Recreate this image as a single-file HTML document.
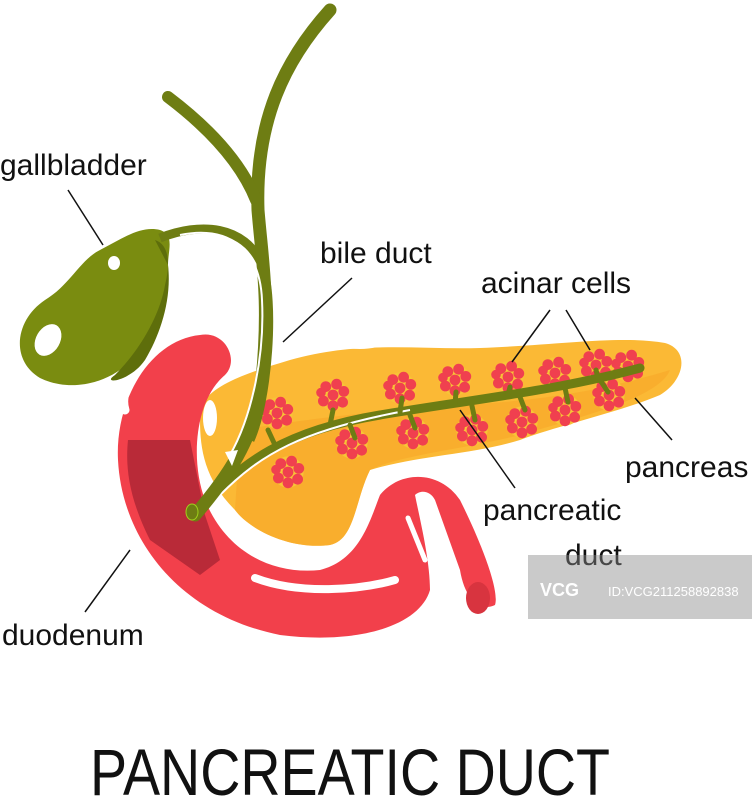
<!DOCTYPE html>
<html><head><meta charset="utf-8"><style>
html,body{margin:0;padding:0;background:#fff;}
svg{display:block;}
text{font-family:"Liberation Sans",sans-serif;fill:#111;}
</style></head><body>
<svg width="752" height="800" viewBox="0 0 752 800" xmlns="http://www.w3.org/2000/svg">
<defs>
<g id="ac" transform="scale(1.2)">
<circle r="13" fill="#f7c437"/>
<circle cx="0" cy="0" r="4.5" fill="#f0404f"/>
<circle cx="-6" cy="-7" r="4.5" fill="#f0404f"/>
<circle cx="3" cy="-9" r="4.5" fill="#f0404f"/>
<circle cx="9" cy="-3" r="4.5" fill="#f0404f"/>
<circle cx="8" cy="6" r="4.5" fill="#f0404f"/>
<circle cx="0" cy="9" r="4.5" fill="#f0404f"/>
<circle cx="-8" cy="5" r="4.5" fill="#f0404f"/>
<circle cx="-10" cy="-2" r="4" fill="#f0404f"/>
</g>
</defs>

<!-- pancreas -->
<path d="M200,420 C195,390 240,375 290,360 C360,340 420,350 480,348 C560,345 620,335 665,343 C690,350 685,380 660,395 C620,412 560,425 520,440 C470,455 420,455 370,470 C355,500 355,540 330,545 C290,550 250,530 235,510 C205,480 200,450 200,420 Z" fill="#fbb935"/>
<path d="M240,430 C300,420 380,410 460,405 C560,400 620,385 670,370 C660,395 600,412 520,435 C460,450 400,455 370,470 C355,500 355,540 330,545 C290,550 250,530 235,510 Z" fill="#f8a92b" opacity="0.7"/>
<ellipse cx="360" cy="343" rx="22" ry="6" fill="#fff"/>
<ellipse cx="210" cy="418" rx="7" ry="18" fill="#fff"/>

<!-- duodenum -->
<path d="M200,335 C150,340 115,400 118,460 C122,540 180,615 280,635 C360,645 420,625 430,590 C430,560 420,520 415,495 C420,490 430,490 435,500 L460,570 C465,600 480,612 495,605 C500,590 480,540 460,500 C440,470 400,470 380,495 C370,520 360,560 320,570 C270,575 225,550 205,500 C190,460 195,400 225,375 C240,360 225,330 200,335 Z" fill="#f2404b"/>
<path d="M128,440 L190,440 L205,515 L220,560 L200,575 L150,540 C130,500 125,470 128,440 Z" fill="#b92a38"/>
<path d="M143,355 C130,375 120,395 125,410" stroke="#fff" stroke-width="9" fill="none" stroke-linecap="round"/>
<path d="M255,578 C300,595 360,590 395,580" stroke="#fff" stroke-width="8" fill="none" stroke-linecap="round"/>
<path d="M408,518 L425,560" stroke="#fff" stroke-width="5" fill="none" stroke-linecap="round"/>
<ellipse cx="478" cy="598" rx="12" ry="16" fill="#d8343f"/>

<!-- acinar clusters -->
<use href="#ac" x="277" y="413"/><use href="#ac" x="333" y="395"/><use href="#ac" x="400" y="388"/>
<use href="#ac" x="455" y="380"/><use href="#ac" x="508" y="377"/><use href="#ac" x="555" y="373"/>
<use href="#ac" x="596" y="365"/><use href="#ac" x="628" y="366"/><use href="#ac" x="352" y="443"/>
<use href="#ac" x="413" y="433"/><use href="#ac" x="472" y="430"/><use href="#ac" x="522" y="422"/>
<use href="#ac" x="565" y="410"/><use href="#ac" x="609" y="395"/><use href="#ac" x="288" y="472"/>

<!-- pancreatic duct -->
<path d="M195,515 C240,460 290,430 380,415 C470,400 560,390 640,368" stroke="#6e7d13" stroke-width="9" fill="none" stroke-linecap="round"/>
<path d="M220,495 C260,455 300,430 410,410" stroke="#fff" stroke-width="2" fill="none"/>
<path d="M275,445 L268,430 M330,425 L333,410 M400,412 L402,398 M455,404 L456,392 M508,395 L510,387 M350,425 L355,438 M410,415 L415,428 M472,406 L475,420 M520,397 L525,410 M565,388 L568,402 M600,380 L608,392 M598,378 L596,370" stroke="#6e7d13" stroke-width="5" stroke-linecap="round"/>

<!-- gallbladder -->
<path d="M160,230 C140,225 120,240 100,250 C80,260 70,285 45,300 C15,320 10,360 40,378 C75,395 120,380 140,350 C155,325 170,300 168,265 C168,250 175,235 160,230 Z" fill="#7a8c10"/>
<path d="M155,240 C170,245 170,265 165,285 C160,315 140,350 115,375 C100,385 130,382 145,360 C160,335 172,300 168,265 Z" fill="#5e6e0b"/>
<ellipse cx="48" cy="340" rx="12" ry="17" transform="rotate(30 48 340)" fill="#fff"/>
<ellipse cx="114" cy="263" rx="6" ry="7" fill="#fff"/>
<!-- cystic duct -->
<path d="M160,238 C200,222 245,225 262,265 C275,300 268,400 250,440" stroke="#6e7d13" stroke-width="9" fill="none"/>
<!-- hepatic ducts -->
<path d="M330,10 C285,60 255,120 258,210 C262,260 270,300 262,380 C255,440 225,480 195,515" stroke="#6e7d13" stroke-width="13" fill="none" stroke-linecap="round"/>
<path d="M168,97 C205,125 240,160 256,200" stroke="#6e7d13" stroke-width="12" fill="none" stroke-linecap="round"/>
<path d="M180,235 C230,225 260,250 262,300 C265,360 250,420 230,455" stroke="#fff" stroke-width="2" fill="none"/>
<path d="M225,452 L232,466 L238,450 Z" fill="#fff"/>
<ellipse cx="192" cy="512" rx="6" ry="8" fill="#6e7d13" stroke="#9fd11b" stroke-width="1"/>

<!-- leader lines -->
<g stroke="#111" stroke-width="1.5">
<line x1="68" y1="190" x2="103" y2="245"/>
<line x1="352" y1="278" x2="283" y2="342"/>
<line x1="550" y1="310" x2="512" y2="362"/>
<line x1="566" y1="310" x2="590" y2="350"/>
<line x1="635" y1="398" x2="672" y2="440"/>
<line x1="460" y1="410" x2="515" y2="488"/>
<line x1="130" y1="550" x2="85" y2="612"/>
</g>
<g font-size="30">
<text x="0" y="175">gallbladder</text>
<text x="320" y="263">bile duct</text>
<text x="481" y="293">acinar cells</text>
<text x="625" y="477">pancreas</text>
<text x="483" y="520">pancreatic</text>
<text x="565" y="565">duct</text>
<text x="2" y="645">duodenum</text>
</g>
<rect x="528" y="555" width="224" height="64" fill="#8a8a8a" opacity="0.45"/>
<text x="540" y="596" font-size="18" font-weight="bold" style="fill:#fff">VCG</text>
<text x="608" y="596" font-size="13" style="fill:#fff">ID:VCG211258892838</text>
<text x="350" y="795" font-size="66" text-anchor="middle" textLength="520" lengthAdjust="spacingAndGlyphs" style="font-weight:300">PANCREATIC DUCT</text>
</svg>
</body></html>
